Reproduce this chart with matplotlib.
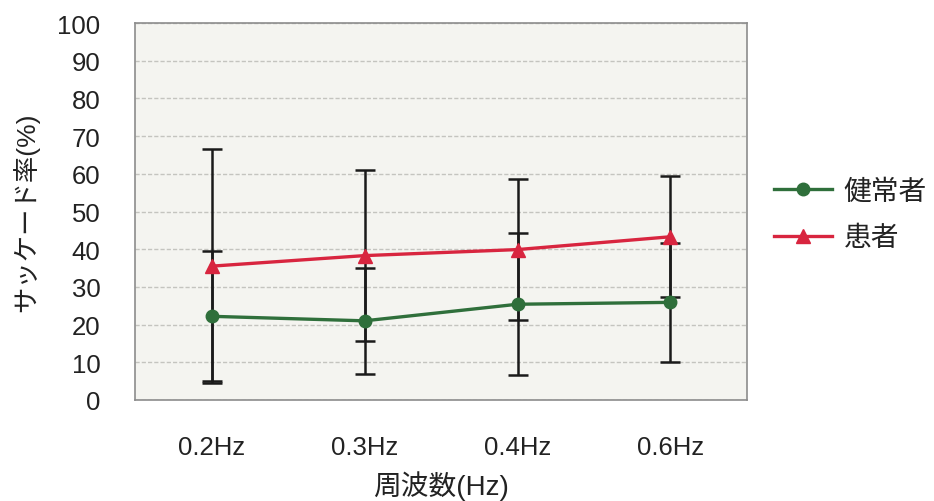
import matplotlib.pyplot as plt

plt.rcParams['font.family'] = ['Liberation Sans', 'Noto Sans CJK JP']

categories = ['0.2Hz', '0.3Hz', '0.4Hz', '0.6Hz']
healthy_mean = [22.2, 21.0, 25.4, 25.9]
healthy_sd = [17.2, 14.1, 18.9, 15.8]
patient_mean = [35.5, 38.3, 39.9, 43.3]
patient_sd = [31.0, 22.6, 18.6, 16.0]

green = '#2f6f3b'
red = '#d8253f'

fig = plt.figure(figsize=(9.34, 5.02), dpi=100)
ax = fig.add_axes([135 / 934, 1 - 401 / 502, 612 / 934, 377 / 502])
ax.set_facecolor('#f4f4f0')

x = list(range(len(categories)))

# error bars first, lines on top
ax.errorbar(x, healthy_mean, yerr=healthy_sd, fmt='none', ecolor='#1a1a1a',
            elinewidth=1.8, capsize=7, capthick=1.8, zorder=2)
ax.errorbar(x, patient_mean, yerr=patient_sd, fmt='none', ecolor='#1a1a1a',
            elinewidth=1.8, capsize=7, capthick=1.8, zorder=2)
ax.plot(x, healthy_mean, color=green, lw=2.4, marker='o', ms=9,
        label='健常者', zorder=3)
ax.plot(x, patient_mean, color=red, lw=2.4, marker='^', ms=10,
        label='患者', zorder=3)

ax.set_xlim(-0.5, 3.5)
ax.set_ylim(0, 100)
ax.set_yticks(range(0, 101, 10))
ax.set_xticks(x)
ax.set_xticklabels(categories)
ax.grid(axis='y', color='#c4c4bf', lw=1, ls=(0, (3, 1.5)))
ax.set_axisbelow(True)
for s in ax.spines.values():
    s.set_color('#8c8c8c')
    s.set_linewidth(1.2)
ax.tick_params(length=0, labelsize=18.5, colors='#222222')
ax.tick_params(axis='x', pad=25)
ax.tick_params(axis='y', pad=25)

ax.set_xlabel('周波数(Hz)', fontsize=20, color='#222222', labelpad=8)
ax.set_ylabel('サッケード率(%)', fontsize=19, color='#222222', labelpad=13)

ax.legend(loc='center left', bbox_to_anchor=(774 / 934, 1 - 216 / 502),
          bbox_transform=fig.transFigure, frameon=False, fontsize=20,
          handlelength=2.1, handletextpad=0.4, labelspacing=0.75,
          borderaxespad=0, borderpad=0, labelcolor='#222222')

fig.savefig('out.png', dpi=100)
